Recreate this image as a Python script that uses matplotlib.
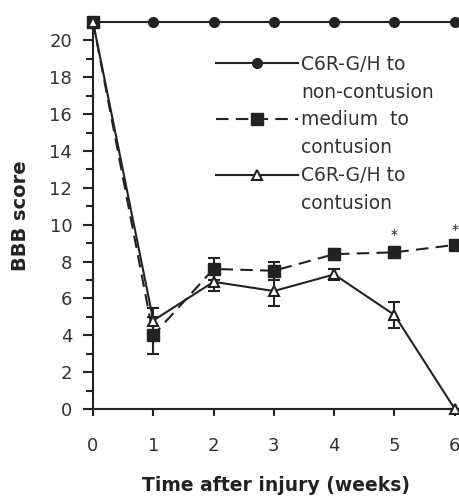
import numpy as np
import matplotlib.pyplot as plt
from matplotlib.lines import Line2D

weeks = [0, 1, 2, 3, 4, 5, 6]

# C6R-G/H to non-contusion
non_cont = [21, 21, 21, 21, 21, 21, 21]

# medium to contusion
medium = [21, 4.0, 7.6, 7.5, 8.4, 8.5, 8.9]
medium_err = [0, 1.0, 0.6, 0.5, 0.3, 0.3, 0.2]

# C6R-G/H to contusion
c6r_cont = [21, 4.8, 6.9, 6.4, 7.3, 5.1, 0]
c6r_cont_err = [0, 0.7, 0.5, 0.8, 0.3, 0.7, 0]

# weeks marked with a star
star_weeks = [5, 6]

plt.rcParams['font.family'] = ['DejaVu Sans']

fig = plt.figure(figsize=(4.59, 4.99), dpi=100)
ax = fig.add_axes([0.2026, 0.1804, 0.7974, 0.7756])

lw = 1.5
ax.plot(weeks, non_cont, '-', color='#222222', lw=lw, marker='o', ms=7,
        clip_on=False, zorder=3)
ax.errorbar(weeks, medium, yerr=medium_err, fmt='s', color='#222222', ms=8.5,
            capsize=4.5, capthick=lw, elinewidth=lw, clip_on=False, zorder=4)
ax.plot(weeks, medium, color='#222222', lw=lw, dashes=(6, 3.5), zorder=2)
ax.errorbar(weeks, c6r_cont, yerr=c6r_cont_err, fmt='^', color='#222222',
            mfc='white', mec='#222222', mew=1.5, ms=7.5,
            capsize=4.5, capthick=lw, elinewidth=lw, clip_on=False, zorder=5)
ax.plot(weeks, c6r_cont, '-', color='#222222', lw=lw, zorder=2)

for w in star_weeks:
    i = weeks.index(w)
    ax.text(w, medium[i] + medium_err[i] + 0.25, '*', ha='center', va='bottom',
            fontsize=10, color='#222222')

ax.set_xlim(0, 6.07)
ax.set_ylim(0, 21)
ax.set_xticks(weeks)
ax.set_yticks(np.arange(0, 21, 2))
ax.set_yticks(np.arange(0, 21, 1), minor=True)

for s in ['top', 'right']:
    ax.spines[s].set_visible(False)
for s in ['left', 'bottom']:
    ax.spines[s].set_linewidth(1.5)
    ax.spines[s].set_color('#222222')

ax.tick_params(axis='both', which='major', width=1.5, color='#222222',
               labelsize=13, labelcolor='#333333')
ax.tick_params(axis='x', which='major', length=5, pad=15)
ax.tick_params(axis='y', which='major', length=7, pad=8)
ax.tick_params(axis='y', which='minor', length=5, width=1.5, color='#222222')

ax.set_xlabel('Time after injury (weeks)', fontsize=13.5, fontweight='bold',
              color='#222222', labelpad=15)
ax.set_ylabel('BBB score', fontsize=14, fontweight='bold', color='#222222',
              labelpad=14)

blank = Line2D([], [], linestyle='none')
h1 = Line2D([], [], color='#222222', lw=lw, marker='o', ms=7)
h2 = Line2D([], [], color='#222222', lw=lw, dashes=(6, 3.5), marker='s', ms=8.5)
h3 = Line2D([], [], color='#222222', lw=lw, marker='^', ms=7.5,
            mfc='white', mew=1.5)
handles = [h1, blank, h2, blank, h3, blank]
labels = ['C6R-G/H to', 'non-contusion', 'medium  to', 'contusion',
          'C6R-G/H to', 'contusion']
leg = ax.legend(handles, labels, frameon=False, fontsize=13.5,
                handlelength=4.4, handletextpad=0.15, labelspacing=0.47,
                loc='upper left', bbox_to_anchor=(0.335, 0.915),
                borderaxespad=0, borderpad=0)
for t in leg.get_texts():
    t.set_color('#333333')

fig.savefig('out.png', dpi=100)
